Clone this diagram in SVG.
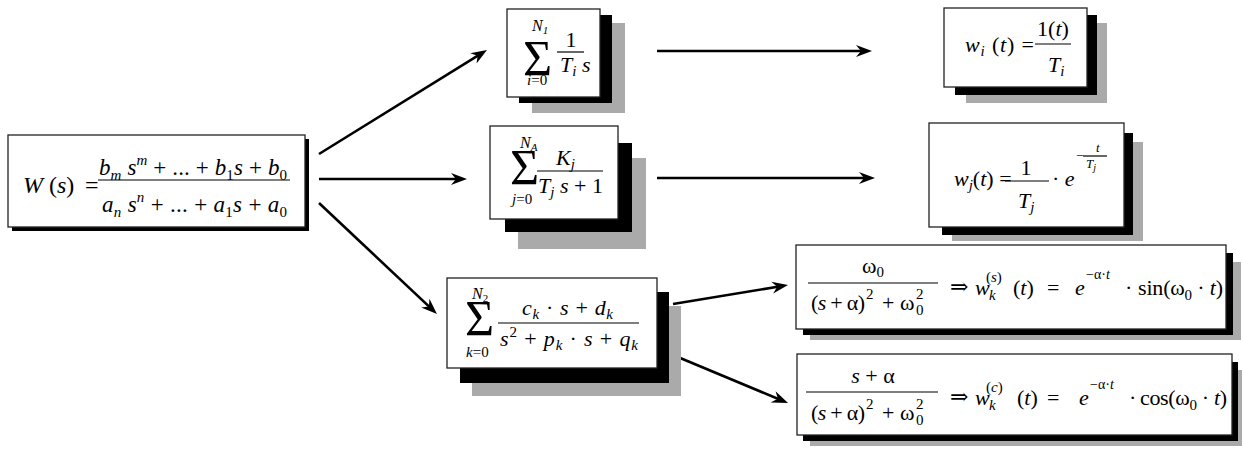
<svg xmlns="http://www.w3.org/2000/svg" width="1242" height="449" viewBox="0 0 1242 449" font-family="'Liberation Serif', 'Times New Roman', Times, 'DejaVu Serif', serif">
<style>
text{font-family:"Liberation Serif","Times New Roman",Times,"DejaVu Serif",serif}
.t{font-size:22px;fill:#000}
.i{font-style:italic}
.sm{font-size:15px}
.big{font-size:50px}
.box{fill:#fff;stroke:#222;stroke-width:1.3}
.s1{fill:#000}
.s2{fill:#aaa}
.fl{stroke:#000;stroke-width:1.2}
.ar{fill:none;stroke:#000;stroke-width:2.6;marker-end:url(#ah)}
</style>
<defs>
<marker id="ah" markerUnits="userSpaceOnUse" markerWidth="18" markerHeight="14" refX="10" refY="7" orient="auto" viewBox="0 0 18 14">
<path d="M0,1 L16,7 L0,13 L5,7 Z" fill="#000"/>
</marker>
</defs>
<rect width="1242" height="449" fill="#fff"/>

<g id="connectors">
<line class="ar" x1="319" y1="154" x2="481.9" y2="53.2"/>
<line class="ar" x1="319" y1="179" x2="461" y2="179"/>
<line class="ar" x1="319" y1="203" x2="432.6" y2="309.9"/>
<line class="ar" x1="657" y1="51" x2="866" y2="51"/>
<line class="ar" x1="657" y1="178" x2="869" y2="178"/>
<line class="ar" x1="673" y1="304" x2="782.1" y2="286"/>
<line class="ar" x1="673" y1="355" x2="782.5" y2="400.7"/>
</g>

<g id="n-main">
<rect class="s1" x="12" y="139" width="297" height="92"/>
<rect class="box" x="8" y="135" width="297" height="92"/>
<text class="t" x="23" y="193" style="font-size:24px"><tspan class="i">W</tspan> (<tspan class="i">s</tspan>)<tspan x="85">=</tspan></text>
<line class="fl" x1="98" y1="180" x2="290" y2="180"/>
<text class="t" x="99" y="175" style="font-size:23px" textLength="188" lengthAdjust="spacing"><tspan class="i">b</tspan><tspan class="i sm" dy="5">m</tspan><tspan class="i" dy="-5"> s</tspan><tspan class="i sm" dy="-10">m</tspan><tspan dy="10"> + ... + </tspan><tspan class="i">b</tspan><tspan class="sm" dy="5">1</tspan><tspan class="i" dy="-5">s</tspan><tspan> + </tspan><tspan class="i">b</tspan><tspan class="sm" dy="5">0</tspan></text>
<text class="t" x="102" y="212" style="font-size:23px" textLength="185" lengthAdjust="spacing"><tspan class="i">a</tspan><tspan class="i sm" dy="5">n</tspan><tspan class="i" dy="-5"> s</tspan><tspan class="i sm" dy="-10">n</tspan><tspan dy="10"> + ... + </tspan><tspan class="i">a</tspan><tspan class="sm" dy="5">1</tspan><tspan class="i" dy="-5">s</tspan><tspan> + </tspan><tspan class="i">a</tspan><tspan class="sm" dy="5">0</tspan></text>
</g>

<g id="n-sum1">
<rect class="s2" x="532" y="23" width="93" height="90"/>
<rect class="s1" x="519" y="15" width="93" height="88"/>
<rect class="box" x="507" y="9" width="93" height="88"/>
<text class="t big" x="523" y="75">Σ</text>
<text class="t i" x="532" y="31" style="font-size:16px">N<tspan style="font-size:11px" dy="3">1</tspan></text>
<text class="t" x="527" y="85" style="font-size:15px"><tspan class="i">i</tspan>=0</text>
<line class="fl" x1="557" y1="52" x2="584" y2="52"/>
<text class="t" x="571" y="47" text-anchor="middle">1</text>
<text class="t i" x="560" y="72">T<tspan class="sm" dy="4">i</tspan><tspan dy="-4"> s</tspan></text>
</g>

<g id="n-sum2">
<rect class="s2" x="518" y="158" width="128" height="91"/>
<rect class="s1" x="505" y="143" width="127" height="89"/>
<rect class="box" x="490" y="126" width="128" height="93"/>
<text class="t big" x="510" y="184">Σ</text>
<text class="t i" x="520" y="148" style="font-size:16px">N<tspan style="font-size:11px" dy="3">A</tspan></text>
<text class="t" x="512" y="204" style="font-size:15px"><tspan class="i">j</tspan>=0</text>
<line class="fl" x1="537" y1="171" x2="603" y2="171"/>
<text class="t i" x="556" y="165">K<tspan class="sm" dy="4">j</tspan></text>
<text class="t" x="538" y="193" textLength="65" lengthAdjust="spacing"><tspan class="i">T</tspan><tspan class="i sm" dy="4">j</tspan><tspan class="i" dy="-4"> s</tspan> + 1</text>
</g>

<g id="n-sum3">
<rect class="s2" x="472" y="306" width="209" height="90"/>
<rect class="s1" x="460" y="292" width="209" height="91"/>
<rect class="box" x="447" y="278" width="210" height="90"/>
<text class="t big" x="465" y="335">Σ</text>
<text class="t i" x="472" y="299" style="font-size:16px">N<tspan style="font-size:11px;font-style:normal" dy="3">2</tspan></text>
<text class="t" x="466" y="357" style="font-size:15px"><tspan class="i">k</tspan>=0</text>
<line class="fl" x1="498" y1="323" x2="639" y2="323"/>
<text class="t" x="522" y="315" textLength="91" lengthAdjust="spacing"><tspan class="i">c</tspan><tspan class="i sm" dy="4">k</tspan><tspan dy="-4"> · </tspan><tspan class="i">s</tspan> + <tspan class="i">d</tspan><tspan class="i sm" dy="4">k</tspan></text>
<text class="t" x="500" y="346" textLength="138" lengthAdjust="spacing"><tspan class="i">s</tspan><tspan class="sm" dy="-9">2</tspan><tspan dy="9"> + </tspan><tspan class="i">p</tspan><tspan class="i sm" dy="4">k</tspan><tspan dy="-4"> · </tspan><tspan class="i">s</tspan> + <tspan class="i">q</tspan><tspan class="i sm" dy="4">k</tspan></text>
</g>

<g id="n-wi">
<rect class="s2" x="966" y="23" width="141" height="80"/>
<rect class="s1" x="955" y="15" width="142" height="80"/>
<rect class="box" x="944" y="8" width="143" height="79"/>
<text class="t" x="965" y="52" textLength="69" lengthAdjust="spacing"><tspan class="i">w</tspan><tspan class="i sm" dy="4">i</tspan><tspan dy="-4"> (</tspan><tspan class="i">t</tspan>) =</text>
<line class="fl" x1="1035" y1="44" x2="1071" y2="44"/>
<text class="t" x="1053" y="36" text-anchor="middle">1(<tspan class="i">t</tspan>)</text>
<text class="t i" x="1048" y="72">T<tspan class="sm" dy="4">i</tspan></text>
</g>

<g id="n-wj">
<rect class="s2" x="952" y="142" width="191" height="99"/>
<rect class="s1" x="942" y="133" width="191" height="102"/>
<rect class="box" x="929" y="123" width="195" height="104"/>
<text class="t" x="954" y="186"><tspan class="i">w</tspan><tspan class="i sm" dy="4">j</tspan><tspan dy="-4">(</tspan><tspan class="i">t</tspan>) =</text>
<line class="fl" x1="1005" y1="181" x2="1049" y2="181"/>
<text class="t" x="1026" y="175" text-anchor="middle">1</text>
<text class="t i" x="1018" y="208">T<tspan class="sm" dy="4">j</tspan></text>
<text class="t" x="1052" y="186">· <tspan class="i">e</tspan></text>
<text class="t" x="1076" y="160" style="font-size:13px">−</text>
<line class="fl" x1="1083" y1="156" x2="1107" y2="156"/>
<text class="t i" x="1096" y="152" style="font-size:13px">t</text>
<text class="t i" x="1086" y="168" style="font-size:13px">T<tspan style="font-size:10px" dy="3">j</tspan></text>
</g>

<g id="n-sin">
<rect class="s2" x="810" y="262" width="431" height="78"/>
<rect class="s1" x="803" y="253" width="430" height="82"/>
<rect class="box" x="796" y="245" width="430" height="84"/>
<line class="fl" x1="808" y1="283" x2="938" y2="283"/>
<text class="t" x="862" y="273">ω<tspan class="sm" dy="4">0</tspan></text>
<text class="t" x="811" y="310" textLength="54" lengthAdjust="spacing">(<tspan class="i">s</tspan> + α)</text>
<text class="t sm" x="866" y="299">2</text>
<text class="t" x="882" y="310">+</text>
<text class="t" x="900" y="310">ω</text>
<text class="t sm" x="916" y="315">0</text>
<text class="t sm" x="916" y="299">2</text>
<text class="t" x="950" y="294">⇒</text>
<text class="t i" x="975" y="295">w</text>
<text class="t i sm" x="989" y="300">k</text>
<text class="t sm" x="986" y="282">(<tspan class="i">s</tspan>)</text>
<text class="t" x="1013" y="295">(<tspan class="i">t</tspan>)</text>
<text class="t" x="1047" y="295">=</text>
<text class="t i" x="1075" y="295">e</text>
<text class="t" x="1086" y="279" style="font-size:14px">−α·<tspan class="i">t</tspan></text>
<text class="t" x="1125" y="295">·</text>
<text class="t" x="1138" y="295" textLength="85" lengthAdjust="spacing">sin(ω<tspan class="sm" dy="5">0</tspan><tspan dy="-5"> · </tspan><tspan class="i">t</tspan>)</text>
</g>

<g id="n-cos">
<rect class="s2" x="810" y="370" width="432" height="76"/>
<rect class="s1" x="803" y="362" width="435" height="79"/>
<rect class="box" x="797" y="354" width="435" height="81"/>
<line class="fl" x1="806" y1="392" x2="938" y2="392"/>
<text class="t" x="873" y="383" text-anchor="middle"><tspan class="i">s</tspan> + α</text>
<text class="t" x="811" y="420" textLength="54" lengthAdjust="spacing">(<tspan class="i">s</tspan> + α)</text>
<text class="t sm" x="866" y="409">2</text>
<text class="t" x="882" y="420">+</text>
<text class="t" x="900" y="420">ω</text>
<text class="t sm" x="916" y="425">0</text>
<text class="t sm" x="916" y="409">2</text>
<text class="t" x="950" y="404">⇒</text>
<text class="t i" x="975" y="405">w</text>
<text class="t i sm" x="989" y="410">k</text>
<text class="t sm" x="986" y="392">(<tspan class="i">c</tspan>)</text>
<text class="t" x="1017" y="405">(<tspan class="i">t</tspan>)</text>
<text class="t" x="1047" y="405">=</text>
<text class="t i" x="1079" y="405">e</text>
<text class="t" x="1090" y="389" style="font-size:14px">−α·<tspan class="i">t</tspan></text>
<text class="t" x="1129" y="405">·</text>
<text class="t" x="1140" y="405" textLength="87" lengthAdjust="spacing">cos(ω<tspan class="sm" dy="5">0</tspan><tspan dy="-5"> · </tspan><tspan class="i">t</tspan>)</text>
</g>
</svg>
